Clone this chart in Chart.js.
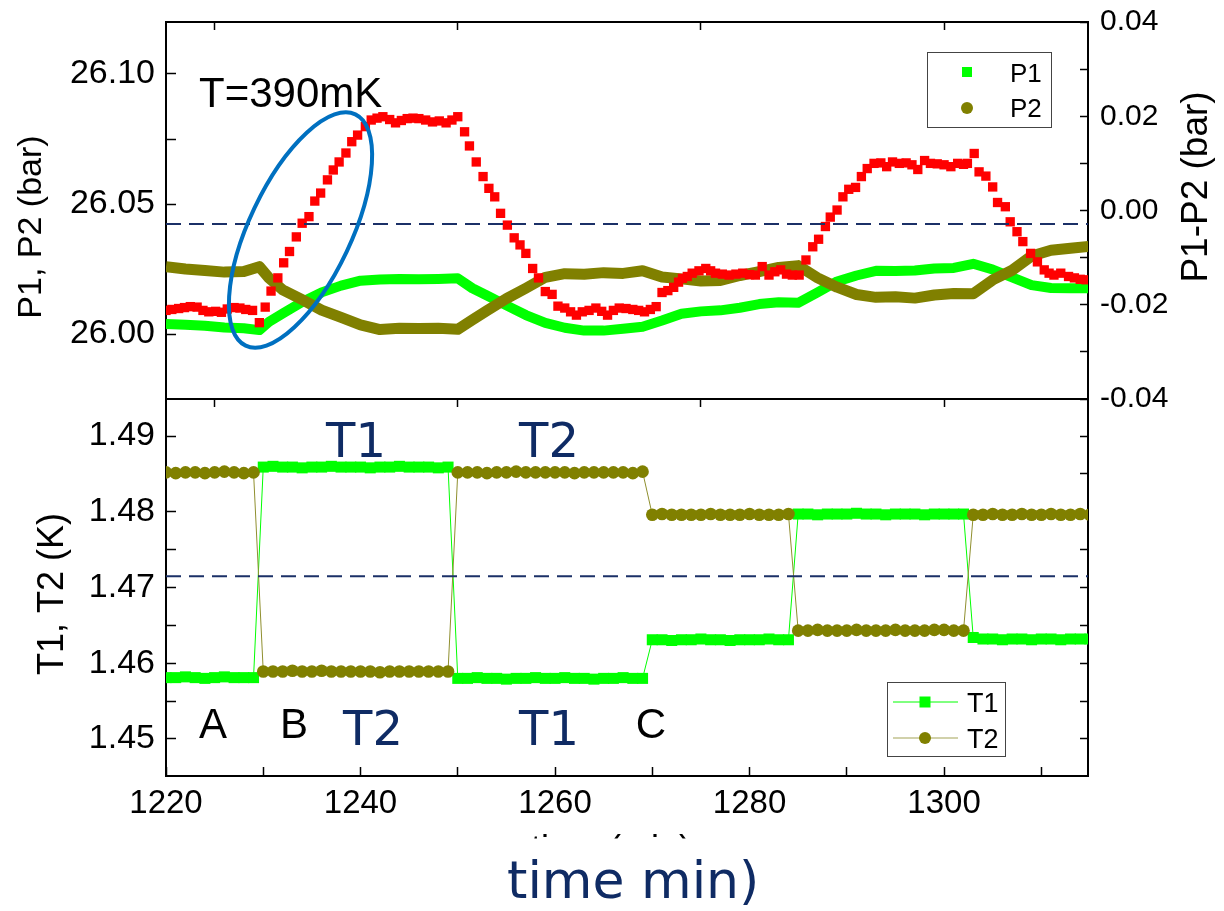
<!DOCTYPE html>
<html>
<head>
<meta charset="utf-8">
<title>P1, P2 and T1, T2 vs time</title>
<script src="https://cdn.jsdelivr.net/npm/chart.js@4.4.1/dist/chart.umd.min.js"></script>
<style>
  html, body { margin: 0; padding: 0; background: #fff; }
  #wrap { position: relative; width: 1224px; height: 911px; }
  #wrap canvas { position: absolute; left: 0; top: 0; }
</style>
</head>
<body>
<div id="wrap">
  <canvas id="tempChart" width="1224" height="911"></canvas>
  <canvas id="pressChart" width="1224" height="911"></canvas>
</div>
<script>
// Valores (minutos, bar, K)
const tPress = [1220, 1222, 1224, 1226, 1228, 1229.6, 1230.6, 1232, 1234, 1236,
  1238, 1240, 1242, 1244, 1246, 1248, 1250, 1251.5, 1253, 1255,
  1257, 1259, 1261, 1263, 1265, 1267, 1269, 1271, 1273, 1275,
  1277, 1279, 1281, 1283, 1285, 1287, 1289, 1291, 1293, 1295,
  1297, 1299, 1301, 1303, 1305, 1307, 1309, 1311, 1313, 1315];
const p1Vals = [26.0038, 26.0036, 26.0032, 26.0025, 26.0022, 26.0015, 26.0047, 26.0079, 26.0123, 26.0160,
  26.0186, 26.0205, 26.0210, 26.0212, 26.0211, 26.0212, 26.0214, 26.0176, 26.0148, 26.0110,
  26.0073, 26.0043, 26.0024, 26.0013, 26.0013, 26.0020, 26.0028, 26.0052, 26.0078, 26.0087,
  26.0091, 26.0101, 26.0115, 26.0122, 26.0120, 26.0160, 26.0202, 26.0225, 26.0243, 26.0242,
  26.0244, 26.0252, 26.0254, 26.0270, 26.0248, 26.0218, 26.0188, 26.0177, 26.0176, 26.0176];
const p2Vals = [26.0259, 26.0250, 26.0244, 26.0238, 26.0240, 26.0259, 26.0215, 26.0170, 26.0132, 26.0092,
  26.0064, 26.0035, 26.0017, 26.0022, 26.0021, 26.0022, 26.0018, 26.0054, 26.0090, 26.0136,
  26.0176, 26.0218, 26.0232, 26.0230, 26.0236, 26.0233, 26.0243, 26.0219, 26.0212, 26.0204,
  26.0206, 26.0225, 26.0240, 26.0256, 26.0263, 26.0216, 26.0180, 26.0152, 26.0141, 26.0143,
  26.0138, 26.0150, 26.0156, 26.0155, 26.0208, 26.0245, 26.0300, 26.0322, 26.0330, 26.0337];

const tDiff = [1220.0, 1220.6, 1221.3, 1221.9, 1222.5, 1223.2, 1223.8, 1224.4, 1225.1, 1225.7,
  1226.3, 1227.0, 1227.6, 1228.2, 1228.9, 1229.6, 1230.2, 1230.8, 1231.5, 1232.1,
  1232.7, 1233.4, 1234.0, 1234.7, 1235.3, 1235.9, 1236.6, 1237.2, 1237.8, 1238.5,
  1239.1, 1239.7, 1240.5, 1241.1, 1241.7, 1242.3, 1243.0, 1243.6, 1244.2, 1244.8,
  1245.4, 1246.0, 1246.7, 1247.4, 1248.1, 1248.8, 1249.4, 1250.0, 1250.7, 1251.2,
  1251.9, 1252.6, 1253.2, 1253.8, 1254.4, 1255.1, 1255.8, 1256.4, 1257.0, 1257.7,
  1258.3, 1259.0, 1259.7, 1260.3, 1261.0, 1261.6, 1262.2, 1262.8, 1263.5, 1264.2,
  1264.8, 1265.4, 1266.0, 1266.6, 1267.3, 1268.0, 1268.6, 1269.2, 1269.8, 1270.4,
  1271.0, 1271.6, 1272.2, 1272.7, 1273.1, 1273.6, 1274.1, 1274.8, 1275.5, 1276.0,
  1276.5, 1277.2, 1277.9, 1278.6, 1279.3, 1280.0, 1280.6, 1281.3, 1282.0, 1282.6,
  1283.2, 1283.8, 1284.4, 1285.1, 1285.8, 1286.5, 1287.1, 1287.8, 1288.3, 1289.0,
  1289.6, 1290.2, 1290.9, 1291.5, 1292.1, 1292.8, 1293.5, 1294.1, 1294.7, 1295.4,
  1296.1, 1296.7, 1297.3, 1298.0, 1298.6, 1299.3, 1300.0, 1300.7, 1301.4, 1302.0,
  1302.4, 1303.1, 1303.6, 1304.3, 1305.0, 1305.5, 1306.3, 1306.8, 1307.5, 1308.1,
  1308.9, 1309.6, 1310.3, 1310.8, 1311.3, 1312.0, 1312.8, 1313.4, 1314.0, 1314.6];
const diffVals = [-0.0212, -0.0210, -0.0208, -0.0206, -0.0204, -0.0205, -0.0212, -0.0215, -0.0214, -0.0216,
  -0.0209, -0.0206, -0.0207, -0.0210, -0.0212, -0.0238, -0.0205, -0.0171, -0.0143, -0.0111,
  -0.0087, -0.0056, -0.0027, -0.0013, 0.0020, 0.0037, 0.0065, 0.0086, 0.0103, 0.0122,
  0.0146, 0.0160, 0.0178, 0.0192, 0.0196, 0.0199, 0.0193, 0.0186, 0.0191, 0.0195,
  0.0196, 0.0195, 0.0192, 0.0188, 0.0190, 0.0186, 0.0192, 0.0199, 0.0167, 0.0137,
  0.0103, 0.0072, 0.0047, 0.0029, -0.0006, -0.0031, -0.0058, -0.0073, -0.0091, -0.0123,
  -0.0143, -0.0172, -0.0178, -0.0203, -0.0207, -0.0215, -0.0222, -0.0215, -0.0212, -0.0207,
  -0.0214, -0.0222, -0.0212, -0.0207, -0.0208, -0.0210, -0.0212, -0.0215, -0.0210, -0.0204,
  -0.0174, -0.0170, -0.0163, -0.0152, -0.0144, -0.0140, -0.0133, -0.0128, -0.0123, -0.0128,
  -0.0133, -0.0135, -0.0137, -0.0135, -0.0133, -0.0136, -0.0137, -0.0119, -0.0137, -0.0130,
  -0.0126, -0.0135, -0.0137, -0.0137, -0.0105, -0.0077, -0.0061, -0.0034, -0.0014, 0.0001,
  0.0029, 0.0045, 0.0049, 0.0072, 0.0089, 0.0100, 0.0101, 0.0093, 0.0103, 0.0100,
  0.0101, 0.0097, 0.0087, 0.0106, 0.0100, 0.0099, 0.0097, 0.0093, 0.0100, 0.0098,
  0.0100, 0.0121, 0.0082, 0.0073, 0.0050, 0.0017, 0.0008, -0.0024, -0.0045, -0.0066,
  -0.0091, -0.0109, -0.0126, -0.0133, -0.0137, -0.0133, -0.0140, -0.0143, -0.0146, -0.0147];

const tTemp = [1220, 1221, 1222, 1223, 1224, 1225, 1226, 1227, 1228, 1229,
  1230, 1231, 1232, 1233, 1234, 1235, 1236, 1237, 1238, 1239,
  1240, 1241, 1242, 1243, 1244, 1245, 1246, 1247, 1248, 1249,
  1250, 1251, 1252, 1253, 1254, 1255, 1256, 1257, 1258, 1259,
  1260, 1261, 1262, 1263, 1264, 1265, 1266, 1267, 1268, 1269,
  1270, 1271, 1272, 1273, 1274, 1275, 1276, 1277, 1278, 1279,
  1280, 1281, 1282, 1283, 1284, 1285, 1286, 1287, 1288, 1289,
  1290, 1291, 1292, 1293, 1294, 1295, 1296, 1297, 1298, 1299,
  1300, 1301, 1302, 1303, 1304, 1305, 1306, 1307, 1308, 1309,
  1310, 1311, 1312, 1313, 1314, 1315];
const t1Vals = [1.4581, 1.4581, 1.4582, 1.4581, 1.4580, 1.4581, 1.4582, 1.4581, 1.4581, 1.4581,
  1.4859, 1.4860, 1.4859, 1.4859, 1.4858, 1.4859, 1.4859, 1.4860, 1.4859, 1.4859,
  1.4859, 1.4858, 1.4859, 1.4859, 1.4860, 1.4859, 1.4859, 1.4859, 1.4858, 1.4859,
  1.4580, 1.4580, 1.4581, 1.4580, 1.4580, 1.4579, 1.4580, 1.4580, 1.4581, 1.4580,
  1.4580, 1.4581, 1.4580, 1.4580, 1.4579, 1.4580, 1.4580, 1.4581, 1.4580, 1.4580,
  1.4631, 1.4631, 1.4630, 1.4631, 1.4631, 1.4632, 1.4631, 1.4631, 1.4630, 1.4631,
  1.4631, 1.4631, 1.4632, 1.4631, 1.4631, 1.4797, 1.4797, 1.4796, 1.4797, 1.4797,
  1.4797, 1.4798, 1.4797, 1.4797, 1.4796, 1.4797, 1.4797, 1.4797, 1.4796, 1.4797,
  1.4797, 1.4797, 1.4797, 1.4634, 1.4632, 1.4632, 1.4631, 1.4632, 1.4632, 1.4631,
  1.4632, 1.4632, 1.4631, 1.4632, 1.4632, 1.4632];
const t2Vals = [1.4852, 1.4851, 1.4852, 1.4852, 1.4851, 1.4852, 1.4853, 1.4852, 1.4851, 1.4852,
  1.4589, 1.4589, 1.4589, 1.4590, 1.4589, 1.4589, 1.4590, 1.4589, 1.4589, 1.4589,
  1.4589, 1.4589, 1.4588, 1.4589, 1.4589, 1.4589, 1.4589, 1.4589, 1.4589, 1.4589,
  1.4852, 1.4852, 1.4852, 1.4851, 1.4852, 1.4852, 1.4853, 1.4852, 1.4852, 1.4852,
  1.4852, 1.4852, 1.4851, 1.4852, 1.4852, 1.4852, 1.4852, 1.4852, 1.4851, 1.4853,
  1.4796, 1.4797, 1.4796, 1.4796, 1.4796, 1.4796, 1.4797, 1.4796, 1.4796, 1.4796,
  1.4797, 1.4796, 1.4796, 1.4796, 1.4797, 1.4643, 1.4643, 1.4644, 1.4643, 1.4643,
  1.4643, 1.4644, 1.4643, 1.4643, 1.4643, 1.4644, 1.4643, 1.4643, 1.4643, 1.4644,
  1.4644, 1.4643, 1.4643, 1.4796, 1.4796, 1.4797, 1.4796, 1.4796, 1.4797, 1.4796,
  1.4796, 1.4797, 1.4796, 1.4796, 1.4797, 1.4796];

// lineas de referencia discontinuas
const pressRefLine = [26.0423, 26.0423];
const tempRefLine = [1.4715, 1.4715];
const refLineTimes = [1220, 1314.8];

// ticks
const timeTicks = [1220, 1230, 1240, 1250, 1260, 1270, 1280, 1290, 1300, 1310];
const timeLabels = [1220, 1240, 1260, 1280, 1300];
const timeTopTicks = [1225, 1250, 1275, 1300];
const pressTicks = [26.00, 26.025, 26.05, 26.075, 26.10];
const pressLabels = [26.00, 26.05, 26.10];
const diffTicks = [-0.04, -0.03, -0.02, -0.01, 0, 0.01, 0.02, 0.03, 0.04];
const diffLabels = [-0.04, -0.02, 0, 0.02, 0.04];
const tempTicks = [1.45, 1.455, 1.46, 1.465, 1.47, 1.475, 1.48, 1.485, 1.49];
const tempLabels = [1.45, 1.46, 1.47, 1.48, 1.49];

const TIME_MIN = 1220, TIME_MAX = 1314.8;
const SANS = "'Liberation Sans', Arial, sans-serif";
const VERD = "'DejaVu Sans', Verdana, sans-serif";
const NAVY = '#0f2b64';
const GREEN = '#00ff00';
const OLIVE = '#808000';

Chart.defaults.font.family = SANS;
Chart.defaults.color = '#000';

const xy = (xs, ys) => xs.map((x, i) => ({ x, y: ys[i] }));
// ancho fijo del eje y sin el relleno extra que Chart.js reserva para las etiquetas
const fixedWidth = (w) => (scale) => {
  scale.width = w;
  scale.paddingTop = 0;
  scale.paddingBottom = 0;
};
const fixedHeight = (h) => (scale) => { scale.height = h; };
const useTicks = (values) => (scale) => { scale.ticks = values.map((value) => ({ value })); };
const labelIf = (majors, digits) => (value) =>
  majors.some((m) => Math.abs(m - value) < 1e-9) ? Number(value).toFixed(digits) : '';

// ticks hacia dentro: tickLength negativo
const frame = (tickLength) => ({
  grid: { drawOnChartArea: false, drawTicks: true, tickLength, tickWidth: 1.5, tickColor: '#000' },
  border: { display: true, color: '#000', width: 2 }
});

const vText = (ctx, text, x, y, font) => {
  ctx.save();
  ctx.translate(x, y);
  ctx.rotate(-Math.PI / 2);
  ctx.font = font;
  ctx.textAlign = 'center';
  ctx.textBaseline = 'middle';
  ctx.fillText(text, 0, 0);
  ctx.restore();
};

const text = (ctx, str, x, y, font, color, align) => {
  ctx.font = font;
  ctx.fillStyle = color;
  ctx.textAlign = align || 'left';
  ctx.textBaseline = 'alphabetic';
  ctx.fillText(str, x, y);
};

const pressDecor = {
  id: 'pressDecor',
  afterDraw(chart) {
    const { ctx } = chart;
    ctx.save();
    ctx.fillStyle = '#000';
    vText(ctx, 'P1, P2 (bar)', 32, 227, '34px ' + SANS);
    vText(ctx, 'P1-P2 (bar)', 1197, 187, '37px ' + SANS);
    text(ctx, 'T=390mK', 199, 107, '42px ' + SANS, '#000');

    // elipse azul alrededor de la subida
    ctx.beginPath();
    ctx.ellipse(300.5, 230, 128, 51, -1.128, 0, Math.PI * 2);
    ctx.strokeStyle = '#0070c0';
    ctx.lineWidth = 4;
    ctx.stroke();

    // leyenda P1 / P2
    ctx.lineWidth = 1;
    ctx.strokeStyle = '#444';
    ctx.strokeRect(927.5, 52.5, 124, 75);
    ctx.fillStyle = GREEN;
    ctx.fillRect(962, 67, 10, 10);
    ctx.fillStyle = OLIVE;
    ctx.beginPath();
    ctx.arc(967, 108, 6, 0, Math.PI * 2);
    ctx.fill();
    text(ctx, 'P1', 1010, 82, '26px ' + SANS, '#000');
    text(ctx, 'P2', 1010, 117, '26px ' + SANS, '#000');
    ctx.restore();
  }
};

const tempDecor = {
  id: 'tempDecor',
  afterDraw(chart) {
    const { ctx } = chart;
    ctx.save();
    ctx.fillStyle = '#000';
    vText(ctx, 'T1, T2 (K)', 53, 594, '36px ' + SANS);

    text(ctx, 'A', 213, 738, '42px ' + SANS, '#000', 'center');
    text(ctx, 'B', 294, 738, '42px ' + SANS, '#000', 'center');
    text(ctx, 'C', 651, 738, '42px ' + SANS, '#000', 'center');
    text(ctx, 'T1', 356, 457, '48px ' + VERD, NAVY, 'center');
    text(ctx, 'T2', 549, 457, '48px ' + VERD, NAVY, 'center');
    text(ctx, 'T2', 373, 745, '48px ' + VERD, NAVY, 'center');
    text(ctx, 'T1', 549, 745, '48px ' + VERD, NAVY, 'center');

    // titulo original del eje, tapado casi por completo
    text(ctx, 'time (min)', 611, 861, '36px ' + SANS, '#000', 'center');
    ctx.fillStyle = '#fff';
    ctx.fillRect(0, 838.5, 1224, 40);
    text(ctx, 'time min)', 507, 898, '52px ' + VERD, NAVY);

    // leyenda T1 / T2
    ctx.lineWidth = 1;
    ctx.strokeStyle = '#444';
    ctx.strokeRect(887.5, 682.5, 118, 74);
    ctx.strokeStyle = GREEN;
    ctx.beginPath(); ctx.moveTo(893, 702); ctx.lineTo(958, 702); ctx.stroke();
    ctx.fillStyle = GREEN;
    ctx.fillRect(919.5, 696.5, 11, 11);
    ctx.strokeStyle = '#a3a356';
    ctx.beginPath(); ctx.moveTo(893, 738); ctx.lineTo(958, 738); ctx.stroke();
    ctx.fillStyle = OLIVE;
    ctx.beginPath(); ctx.arc(925, 738, 6, 0, Math.PI * 2); ctx.fill();
    text(ctx, 'T1', 967, 712, '27px ' + SANS, '#000');
    text(ctx, 'T2', 967, 748, '27px ' + SANS, '#000');
    ctx.restore();
  }
};

const baseOptions = {
  responsive: false,
  animation: false,
  events: [],
  layout: { padding: 0, autoPadding: false },
  plugins: { legend: { display: false }, tooltip: { enabled: false } }
};

// panel superior: presiones
new Chart(document.getElementById('pressChart'), {
  type: 'scatter',
  data: {
    datasets: [
      { label: 'ref', data: xy(refLineTimes, pressRefLine), yAxisID: 'yP', showLine: true,
        borderColor: '#1b3067', borderWidth: 2, borderDash: [15, 8], pointRadius: 0, clip: 0, order: 0 },
      { label: 'P1-P2', data: xy(tDiff, diffVals), yAxisID: 'yD', pointStyle: 'rect', pointRadius: 6.6,
        pointBackgroundColor: '#ff0000', pointBorderWidth: 0, clip: 0, order: 1 },
      { label: 'P2', data: xy(tPress, p2Vals), yAxisID: 'yP', showLine: true, borderColor: OLIVE,
        borderWidth: 11, borderJoinStyle: 'round', pointRadius: 0, clip: 0, order: 2 },
      { label: 'P1', data: xy(tPress, p1Vals), yAxisID: 'yP', showLine: true, borderColor: GREEN,
        borderWidth: 10, borderJoinStyle: 'round', pointRadius: 0, clip: 0, order: 3 }
    ]
  },
  options: {
    ...baseOptions,
    scales: {
      x: { type: 'linear', position: 'bottom', min: TIME_MIN, max: TIME_MAX,
        ticks: { display: false }, grid: { drawOnChartArea: false, drawTicks: false },
        border: { display: true, color: '#000', width: 2 }, afterFit: fixedHeight(512) },
      xTop: { type: 'linear', position: 'top', min: TIME_MIN, max: TIME_MAX,
        afterBuildTicks: useTicks(timeTopTicks), ticks: { display: false },
        ...frame(-8), afterFit: fixedHeight(22) },
      yP: { type: 'linear', position: 'left', min: 25.975, max: 26.12,
        afterBuildTicks: useTicks(pressTicks),
        ticks: { autoSkip: false, padding: 21, font: { size: 34 }, callback: labelIf(pressLabels, 2) },
        ...frame(-10), afterFit: fixedWidth(166) },
      yD: { type: 'linear', position: 'right', min: -0.04, max: 0.04,
        afterBuildTicks: useTicks(diffTicks),
        ticks: { autoSkip: false, padding: 20, font: { size: 30 }, callback: labelIf(diffLabels, 2) },
        ...frame(-8), afterFit: fixedWidth(136) }
    }
  },
  plugins: [pressDecor]
});

// panel inferior: temperaturas
new Chart(document.getElementById('tempChart'), {
  type: 'scatter',
  data: {
    datasets: [
      { label: 'ref', data: xy(refLineTimes, tempRefLine), yAxisID: 'yT', showLine: true,
        borderColor: '#1b3067', borderWidth: 2, borderDash: [15, 8], pointRadius: 0, clip: 0, order: 0 },
      { label: 'T2', data: xy(tTemp, t2Vals), yAxisID: 'yT', showLine: true, borderColor: '#8f8f2e',
        borderWidth: 1, pointStyle: 'circle', pointRadius: 6.3, pointBackgroundColor: OLIVE,
        pointBorderWidth: 0, clip: 0, order: 1 },
      { label: 'T1', data: xy(tTemp, t1Vals), yAxisID: 'yT', showLine: true, borderColor: GREEN,
        borderWidth: 1, pointStyle: 'rect', pointRadius: 7.8, pointBackgroundColor: GREEN,
        pointBorderWidth: 0, clip: 0, order: 2 }
    ]
  },
  options: {
    ...baseOptions,
    scales: {
      x: { type: 'linear', position: 'bottom', min: TIME_MIN, max: TIME_MAX,
        afterBuildTicks: useTicks(timeTicks),
        ticks: { autoSkip: false, maxRotation: 0, padding: 17, font: { size: 33 }, callback: labelIf(timeLabels, 0) },
        ...frame(-9), afterFit: fixedHeight(135) },
      xTop: { type: 'linear', position: 'top', min: TIME_MIN, max: TIME_MAX,
        afterBuildTicks: useTicks(timeTopTicks), ticks: { display: false },
        ...frame(-8), afterFit: fixedHeight(399) },
      yT: { type: 'linear', position: 'left', min: 1.44511, max: 1.49489,
        afterBuildTicks: useTicks(tempTicks),
        ticks: { autoSkip: false, padding: 21, font: { size: 34 }, callback: labelIf(tempLabels, 2) },
        ...frame(-10), afterFit: fixedWidth(166) },
      yT2: { type: 'linear', position: 'right', min: 1.44511, max: 1.49489,
        afterBuildTicks: useTicks(tempTicks), ticks: { display: false },
        ...frame(-8), afterFit: fixedWidth(136) }
    }
  },
  plugins: [tempDecor]
});
</script>
</body>
</html>
